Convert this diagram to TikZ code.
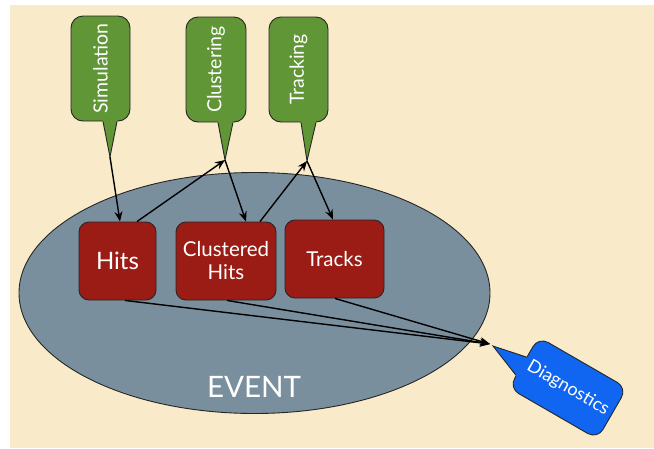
\documentclass[tikz,border=0pt]{standalone}
\usepackage{fontspec}
\setmainfont{Lato}
\usetikzlibrary{shapes.geometric,calc,arrows.meta}
\definecolor{bg}{RGB}{249,235,201}
\definecolor{grn}{RGB}{96,150,54}
\definecolor{rd}{RGB}{155,28,20}
\definecolor{ev}{RGB}{122,143,157}
\definecolor{bl}{RGB}{16,102,240}
\begin{document}
\begin{tikzpicture}[x=1pt,y=-1pt,
  outl/.style={draw=black!85,line width=0.9pt},
  gcall/.style={outl,fill=grn,rounded corners=12pt,rotate=90,minimum width=105pt,minimum height=59pt,inner sep=0pt,text=white,font=\fontsize{19.5}{21}\selectfont},
  rbox/.style={outl,fill=rd,rounded corners=10pt,minimum height=78pt,inner sep=0pt,text=white,align=center,font=\fontsize{20.5}{23}\selectfont},
  arr/.style={-{Stealth[length=10pt,width=8pt]},line width=1.4pt,black}]
\useasboundingbox (0,0) rectangle (654,448);
\fill[white] (0,0) rectangle (654,448);
\fill[bg] (10,5) rectangle (654,448);
% event ellipse
\node[ellipse,outl,fill=ev,minimum width=471pt,minimum height=241pt] (event) at (254.5,293) {};
\node[anchor=base,text=white,font=\fontsize{29.5}{31}\selectfont] (eventlabel) at (254,397) {EVENT};
% green callouts (rotated: west anchor is at the bottom)
\node[gcall] (sim) at (100.5,68.5) {Simulation};
\node[gcall,minimum height=60pt] (clu) at (216,69.5) {Clustering};
\node[gcall] (trk) at (298.5,69.5) {Tracking};
\coordinate (simtip) at (110,157);
\coordinate (clutip) at (225,160);
\coordinate (trktip) at (307,161);
\foreach \n/\a/\b in {sim/2.5/16.5,clu/2/17,trk/2.5/17.5}{
  \coordinate (\n b1) at ($(\n.west)+(\a,0)$);
  \coordinate (\n b2) at ($(\n.west)+(\b,0)$);
  \fill[grn] ($(\n b1)!-2.5pt!(\n tip)$) -- (\n tip) -- ($(\n b2)!-2.5pt!(\n tip)$) -- cycle;
  \draw[outl] (\n b1) -- (\n tip) -- (\n b2);
}
% red boxes
\node[rbox,minimum width=77pt,font=\fontsize{24}{26}\selectfont] (hits) at (117.5,261) {Hits};
\node[rbox,minimum width=100pt] (chits) at (226,261) {Clustered\\Hits};
\node[rbox,minimum width=99pt] (tracks) at (334.5,259) {Tracks};
% diagnostics callout
\node[outl,fill=bl,rounded corners=11pt,rotate=-30,minimum width=102pt,minimum height=59pt,inner sep=0pt,text=white,font=\fontsize{18}{20}\selectfont] (diag) at (568,388) {Diagnostics};
\coordinate (diagtip) at (493,346);
\coordinate (db1) at ($(diag.north west)!0.40!(diag.south west)$);
\coordinate (db2) at ($(diag.north west)!0.75!(diag.south west)$);
\fill[bl] ($(db1)!-2.5pt!(diagtip)$) -- (diagtip) -- ($(db2)!-2.5pt!(diagtip)$) -- cycle;
\draw[outl] (db1) -- (diagtip) -- (db2);
\coordinate (diagend) at (490,344);
% connectors
\draw[arr] (simtip) -- ([xshift=2.5pt]hits.north);
\draw[arr] ([xshift=19.5pt]hits.north) -- (clutip);
\draw[arr] (clutip) -- ([xshift=20pt]chits.north);
\draw[arr] ([xshift=34pt]chits.north) -- (trktip);
\draw[arr] (trktip) -- ([xshift=-1.5pt]tracks.north);
\draw[arr] ([xshift=7.5pt]hits.south) -- (diagend);
\draw[arr] ([xshift=1pt]chits.south) -- (diagend);
\draw[arr] ([xshift=0.5pt]tracks.south) -- (diagend);
\end{tikzpicture}
\end{document}
